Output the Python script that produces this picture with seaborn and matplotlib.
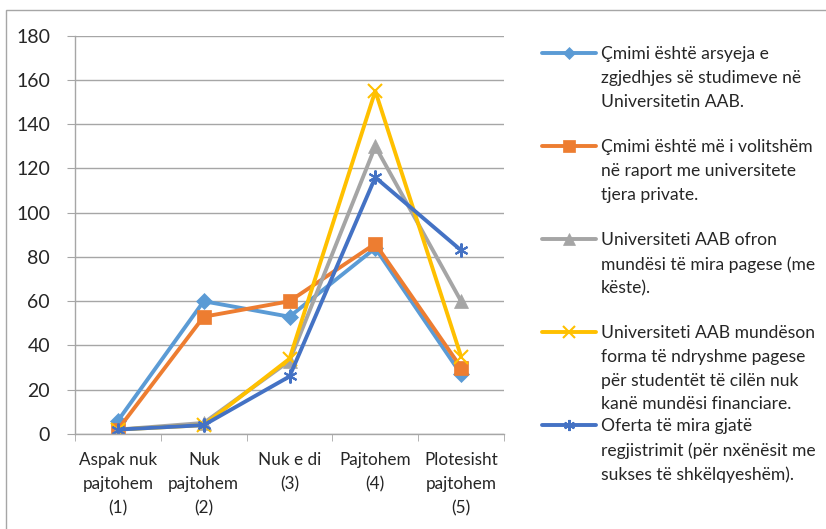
import pandas as pd
import numpy as np
import matplotlib.pyplot as plt
import seaborn as sns
from matplotlib.lines import Line2D
from matplotlib.patches import Rectangle

# Data
categories = ['Aspak nuk\npajtohem\n(1)', 'Nuk\npajtohem\n(2)', 'Nuk e di\n(3)',
              'Pajtohem\n(4)', 'Plotesisht\npajtohem\n(5)']
series_names = [
    'Çmimi është arsyeja e\nzgjedhjes së studimeve në\nUniversitetin AAB.',
    'Çmimi është më i volitshëm\nnë raport me universitete\ntjera private.',
    'Universiteti AAB ofron\nmundësi të mira pagese (me\nkëste).',
    'Universiteti AAB mundëson\nforma të ndryshme pagese\npër studentët të cilën nuk\nkanë mundësi financiare.',
    'Oferta të mira gjatë\nregjistrimit (për nxënësit me\nsukses të shkëlqyeshëm).',
]
cmimi_arsyeja = [6, 60, 53, 84, 27]
cmimi_volitshem = [2, 53, 60, 86, 30]
ofron_pagese = [2, 5, 33, 130, 60]
forma_pagese = [2, 4, 34, 155, 35]
oferta_regjistrim = [2, 4, 26, 116, 83]

colors = ['#5B9BD5', '#ED7D31', '#A5A5A5', '#FFC000', '#4472C4']
markers = ['D', 's', '^', 'x', (6, 2, 0)]
msizes = [8, 10, 10, 10, 10]

# long format table
all_values = [cmimi_arsyeja, cmimi_volitshem, ofron_pagese, forma_pagese, oferta_regjistrim]
rows = []
for name, vals in zip(series_names, all_values):
    for c, v in zip(categories, vals):
        rows.append({'kategoria': c, 'seria': name, 'vlera': v})
df = pd.DataFrame(rows)

sns.set_style('white')
plt.rcParams['font.family'] = ['Lato', 'DejaVu Sans']

W, H = 826, 529
fig = plt.figure(figsize=(W / 100, H / 100), dpi=100)
ax = fig.add_axes([75 / W, 1 - 434 / H, (504 - 75) / W, (434 - 35.7) / H])

for i, name in enumerate(series_names):
    sub = df[df['seria'] == name]
    sns.lineplot(data=sub, x='kategoria', y='vlera', ax=ax, color=colors[i],
                 marker=markers[i], markersize=msizes[i], linewidth=2.8,
                 markeredgecolor=colors[i], markeredgewidth=1.5 if i >= 3 else 0.5,
                 sort=False)

ax.set_xlim(-0.5, 4.5)
ax.set_ylim(0, 180)
ax.set_yticks(np.arange(0, 181, 20))
ax.set_xticks(range(len(categories)))
ax.set_xticklabels(categories, fontsize=12.3, linespacing=1.62)
ax.set_xticks(np.arange(-0.5, 4.6, 1), minor=True)
ax.set_xlabel('')
ax.set_ylabel('')
ax.grid(axis='y', color='#A6A6A6', linewidth=1)
ax.tick_params(axis='x', which='major', length=0, pad=13)
ax.tick_params(axis='x', which='minor', length=5, color='#A6A6A6', direction='out')
ax.tick_params(axis='y', length=6, color='#A6A6A6', direction='out', pad=12, labelsize=14)
ax.tick_params(left=True, bottom=True, which='both')
for s in ['top', 'right']:
    ax.spines[s].set_visible(False)
for s in ['left', 'bottom']:
    ax.spines[s].set_color('#A6A6A6')
    ax.spines[s].set_linewidth(1)
ax.get_legend() and ax.get_legend().remove()

# legend drawn by hand, Excel style (handle next to first line)
legend_y = [53, 146, 239, 332, 425]
for i, name in enumerate(series_names):
    yf = 1 - legend_y[i] / H
    fig.add_artist(Line2D([542 / W, 596 / W], [yf, yf], transform=fig.transFigure,
                          color=colors[i], linewidth=2.8))
    fig.add_artist(Line2D([569 / W], [yf], transform=fig.transFigure, color=colors[i],
                          marker=markers[i], markersize=msizes[i] - 2,
                          markeredgewidth=1.5 if i >= 3 else 0.5, linestyle='none'))
    fig.text(601 / W, 1 - (legend_y[i] - 7) / H, name, fontsize=12.6, va='top',
             ha='left', linespacing=1.6)

# chart area border
fig.add_artist(Rectangle((6 / W, -0.02), 1.0, 1 - 10 / H + 0.02, transform=fig.transFigure,
                         fill=False, edgecolor='#A6A6A6', linewidth=1))

plt.savefig('out.png', dpi=100)
